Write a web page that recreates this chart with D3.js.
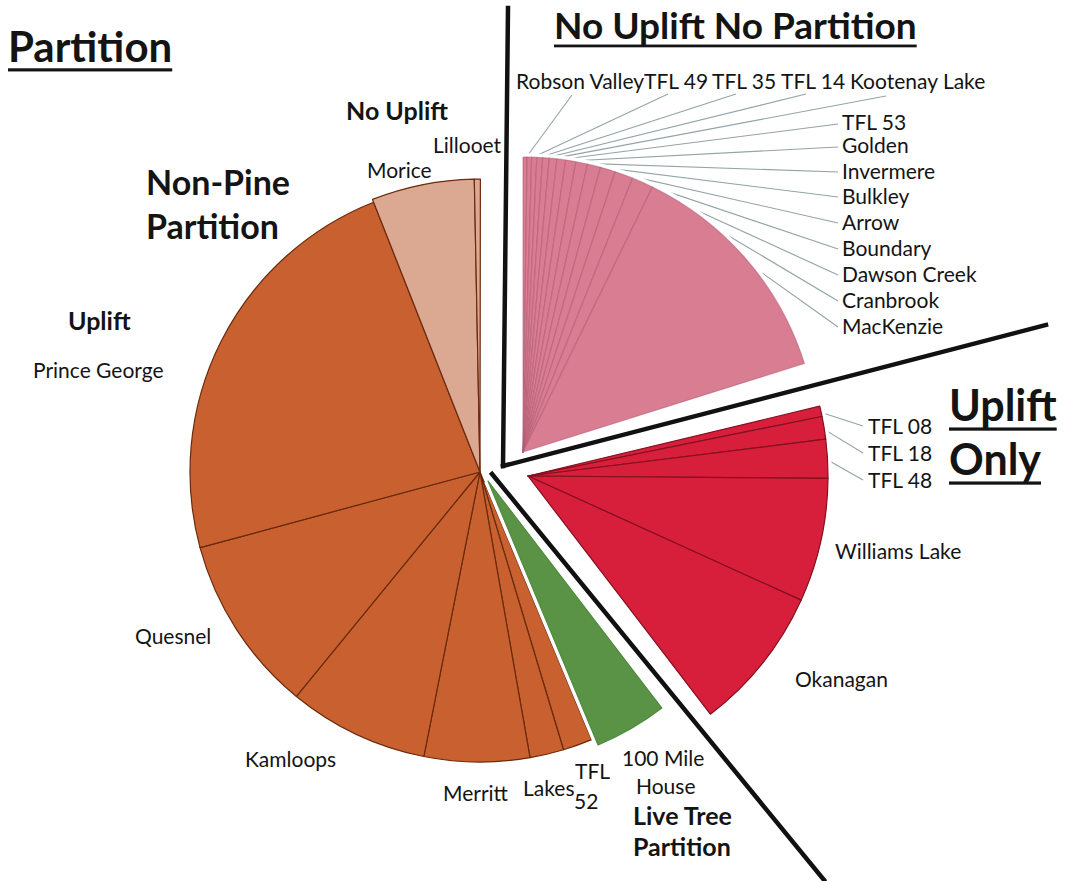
<!DOCTYPE html>
<html><head><meta charset="utf-8">
<script src="https://cdn.jsdelivr.net/npm/d3@7"></script>
<style>
body{margin:0;background:#fff}
svg{display:block}
text{font-family:Lato,"Open Sans",sans-serif;fill:#141414}
</style></head><body>
<svg id="chart" width="1066" height="881"></svg>
<script>
// Harvest share (% of total) by management unit, grouped by treatment,
// listed clockwise from 12 o'clock.
const noUpliftNoPartitionNames = ["Robson Valley","TFL 49","TFL 35","TFL 14","Kootenay Lake","TFL 53","Golden","Invermere","Bulkley","Arrow","Boundary","Dawson Creek","Cranbrook","MacKenzie"];
const noUpliftNoPartitionShare = [0.22,0.25,0.28,0.31,0.36,0.42,0.47,0.56,0.64,0.72,0.83,1.00,1.17,12.92];
const upliftOnlyNames = ["TFL 08","TFL 18","TFL 48","Williams Lake","Okanagan"];
const upliftOnlyShare = [0.56,1.22,2.08,6.67,7.81];
const liveTreeNames = ["100 Mile House"];
const liveTreeShare = [4.11];
const nonPineNames = ["TFL 52","Lakes","Merritt","Kamloops","Quesnel","Prince George"];
const nonPineShare = [1.64,1.89,5.86,7.81,9.89,23.22];
const noUpliftNames = ["Morice","Lillooet"];
const noUpliftShare = [5.67,0.33];

// Wedge groups: each is pulled out to its own centre; gap is extra rotation (deg) before it.
const groups = [
  {names:noUpliftNoPartitionNames, values:noUpliftNoPartitionShare, fill:"#d87d92", line:"#b0566f", lineOpacity:0.5, cx:523, cy:452, r:295, gap:0, outline:true},
  {names:upliftOnlyNames, values:upliftOnlyShare, fill:"#d71f3c", line:"#84101f", lineOpacity:1, cx:528, cy:476, r:300, gap:4, outline:true},
  {names:liveTreeNames, values:liveTreeShare, fill:"#5a9345", line:"#4f8a3c", lineOpacity:1, cx:488, cy:481, r:286, gap:0, outline:true},
  {names:nonPineNames, values:nonPineShare, fill:"#c8612f", line:"#6a2a0e", lineOpacity:1, cx:480, cy:472, r:290, gap:0, outline:false},
  {names:noUpliftNames, values:noUpliftShare, fill:"#dba892", line:"#6a2a0e", lineOpacity:1, cx:480, cy:472, r:293, gap:0, outline:false}
];
const drawOrder = [3,4,2,1,0];

// Label placement: baseline position and optional leader anchor.
const labelLayout = {
  "Robson Valley":{x:516,y:89,lead:[572,95]},
  "TFL 49":{x:644,y:89,lead:[668,94]},
  "TFL 35":{x:712,y:89,lead:[736,94]},
  "TFL 14":{x:781,y:89,lead:[806,94]},
  "Kootenay Lake":{x:850,y:89,lead:[886,96]},
  "TFL 53":{x:842,y:130,lead:[838,124]},
  "Golden":{x:842,y:153,lead:[838,147]},
  "Invermere":{x:842,y:179,lead:[838,172]},
  "Bulkley":{x:842,y:204,lead:[838,197]},
  "Arrow":{x:842,y:230,lead:[838,223]},
  "Boundary":{x:842,y:256,lead:[838,249]},
  "Dawson Creek":{x:842,y:282,lead:[838,275]},
  "Cranbrook":{x:842,y:308,lead:[838,301]},
  "MacKenzie":{x:842,y:334,lead:[838,327]},
  "TFL 08":{x:868,y:434,lead:[863,426]},
  "TFL 18":{x:868,y:461,lead:[863,453]},
  "TFL 48":{x:868,y:488,lead:[863,480]},
  "Williams Lake":{x:835,y:559},
  "Okanagan":{x:795,y:687},
  "100 Mile House":{x:622,y:766,lines:["100 Mile","House"],dx:[0,14],lh:28},
  "TFL 52":{x:575,y:779,lines:["TFL","52"],dx:[0,-1],lh:30},
  "Lakes":{x:523,y:796},
  "Merritt":{x:443,y:801},
  "Kamloops":{x:245,y:767},
  "Quesnel":{x:135,y:644},
  "Prince George":{x:33,y:378},
  "Morice":{x:367,y:178},
  "Lillooet":{x:433,y:153}
};

const groupLabels = [
  {lines:["No Uplift"],x:346,y:120,size:25},
  {lines:["Non-Pine","Partition"],x:146,y:195,size:34,lh:44},
  {lines:["Uplift"],x:68,y:330,size:25},
  {lines:["Live Tree","Partition"],x:633,y:825,size:25,lh:31}
];
const titles = [
  {lines:["Partition"],x:8,y:62,size:42,lh:0},
  {lines:["No Uplift No Partition"],x:554,y:39,size:37,lh:0},
  {lines:["Uplift","Only"],x:949,y:421,size:43,lh:54}
];
const dividers = [
  [[508,8],[503,466]],
  [[503,466],[1046,325]],
  [[492,474],[824,880]]
];

const svg = d3.select("#chart");
const toAngle = d3.scaleLinear().domain([0,100]).range([0,2*Math.PI]);

// Angular extent of each group, laid out clockwise.
let cursor = 0;
groups.forEach(g => {
  cursor += g.gap*Math.PI/180;
  const span = toAngle(d3.sum(g.values));
  g.start = cursor; g.end = cursor + span; cursor = g.end;
  g.arcs = d3.pie().sort(null).startAngle(g.start).endAngle(g.end)(g.values)
    .map((a,i)=>Object.assign(a,{name:g.names[i]}));
});

const polar = (g, ang, rad) => [g.cx + rad*Math.sin(ang), g.cy - rad*Math.cos(ang)];

// Leader lines sit beneath the wedges so they stop at the rim.
const leaderLayer = svg.append("g");
groups.forEach(g => g.arcs.forEach(a => {
  const L = labelLayout[a.name];
  if (!L || !L.lead) return;
  const mid = (a.startAngle + a.endAngle)/2;
  const p = polar(g, mid, g.r - 2);
  leaderLayer.append("line")
    .attr("x1",L.lead[0]).attr("y1",L.lead[1]).attr("x2",p[0]).attr("y2",p[1])
    .attr("stroke","#93a3a8").attr("stroke-width",1.1);
}));

drawOrder.forEach(k => {
  const g = groups[k];
  const layer = svg.append("g").attr("transform",`translate(${g.cx},${g.cy})`);
  if (g.outline) {
    layer.append("path")
      .attr("d", d3.arc().innerRadius(0).outerRadius(g.r)({startAngle:g.start,endAngle:g.end}))
      .attr("fill","#fff").attr("stroke","#fff").attr("stroke-width",8).attr("stroke-linejoin","miter");
  }
  const arc = d3.arc().innerRadius(0).outerRadius(g.r);
  layer.selectAll("path.slice").data(g.arcs).join("path")
    .attr("class","slice")
    .attr("d",arc)
    .attr("fill",g.fill)
    .attr("stroke",g.line)
    .attr("stroke-opacity",g.lineOpacity)
    .attr("stroke-width",1.2)
    .attr("stroke-linejoin","round");
});

// Section dividers
svg.append("g").selectAll("line").data(dividers).join("line")
  .attr("x1",d=>d[0][0]).attr("y1",d=>d[0][1]).attr("x2",d=>d[1][0]).attr("y2",d=>d[1][1])
  .attr("stroke","#111").attr("stroke-width",4.5).attr("stroke-linecap","square");

// Unit labels
const textLayer = svg.append("g");
Object.entries(labelLayout).forEach(([name,L]) => {
  const lines = L.lines || [name];
  lines.forEach((s,i)=>{
    textLayer.append("text")
      .attr("x", L.x + (L.dx ? L.dx[i] : 0))
      .attr("y", L.y + i*(L.lh||0))
      .attr("font-size",21)
      .text(s);
  });
});

groupLabels.forEach(G => G.lines.forEach((s,i)=>{
  textLayer.append("text").attr("x",G.x).attr("y",G.y+i*(G.lh||0))
    .attr("font-size",G.size).attr("font-weight",700).text(s);
}));

titles.forEach(T => T.lines.forEach((s,i)=>{
  const t = textLayer.append("text").attr("x",T.x).attr("y",T.y+i*T.lh)
    .attr("font-size",T.size).attr("font-weight",700).text(s);
  const w = t.node().getComputedTextLength();
  textLayer.append("rect").attr("x",T.x).attr("y",T.y+i*T.lh+T.size*0.15)
    .attr("width",w).attr("height",Math.max(2.5,T.size*0.075)).attr("fill","#141414");
}));
</script>
</body></html>
